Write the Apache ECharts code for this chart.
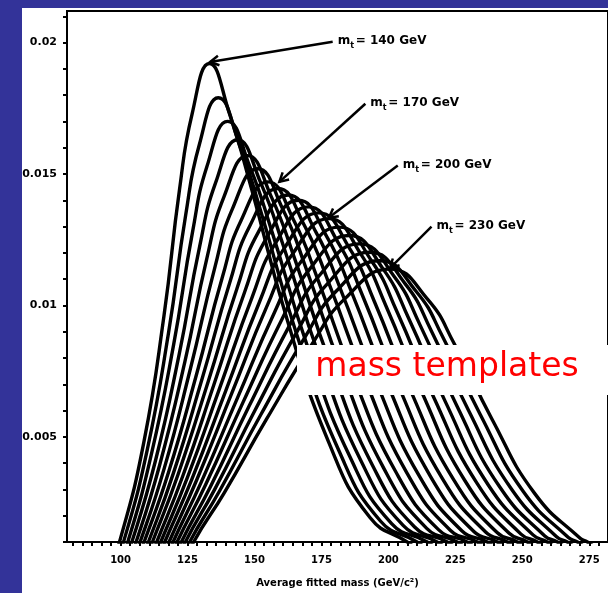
<!DOCTYPE html>
<html>
<head>
<meta charset="utf-8">
<script src="https://cdn.jsdelivr.net/npm/echarts@6/dist/echarts.min.js"></script>
<style>
  html, body { margin: 0; padding: 0; background: #333399; }
  #main { width: 608px; height: 593px; }
</style>
</head>
<body>
<div id="main"></div>
<script>
// Top-mass templates: average fitted mass distributions, one per generated mass (GeV)
const massValues = [140, 145, 150, 155, 160, 165, 170, 175, 180, 185, 190, 195, 200, 205, 210, 215, 220, 225, 230];

const mt140 = [[95.6,0],[99.6,0.001],[108.7,0.0048],[116.2,0.0096],[122.0,0.0144],[126.7,0.01728],[133.2,0.0192],[140.7,0.01728],[149.0,0.0144],[161.8,0.0096],[177.7,0.0048],[193.2,0.00192],[207.0,0.001],[221.0,0]];
const mt145 = [[97.1,0],[101.1,0.001],[109.9,0.00448],[117.9,0.00895],[124.3,0.01343],[129.4,0.01611],[136.5,0.0179],[144.4,0.01611],[152.8,0.01343],[165.6,0.00895],[181.5,0.00448],[197.1,0.00179],[210.7,0.001],[224.7,0]];
const mt150 = [[98.7,0],[102.7,0.001],[111.3,0.00425],[119.8,0.0085],[126.8,0.01275],[132.3,0.0153],[140.0,0.017],[148.2,0.0153],[156.7,0.01275],[169.6,0.0085],[185.6,0.00425],[201.2,0.0017],[214.5,0.001],[228.5,0]];
const mt155 = [[100.2,0],[104.2,0.001],[113.0,0.00408],[121.9,0.00815],[129.5,0.01223],[135.5,0.01467],[143.7,0.0163],[152.3,0.01467],[160.9,0.01223],[173.9,0.00815],[189.8,0.00408],[205.5,0.00163],[218.2,0.001],[232.2,0]];
const mt160 = [[101.8,0],[105.8,0.001],[114.6,0.00393],[124.0,0.00785],[132.2,0.01178],[138.6,0.01413],[147.4,0.0157],[156.3,0.01413],[165.0,0.01178],[178.1,0.00785],[194.0,0.00393],[209.8,0.00157],[222.0,0.001],[236.0,0]];
const mt165 = [[103.3,0],[107.3,0.001],[116.3,0.0038],[126.1,0.0076],[135.1,0.0114],[141.8,0.01368],[151.2,0.0152],[160.5,0.01368],[169.3,0.0114],[182.4,0.0076],[198.3,0.0038],[214.3,0.00152],[225.7,0.001],[239.7,0]];
const mt170 = [[104.8,0],[108.8,0.001],[118.0,0.00368],[128.3,0.00735],[137.9,0.01103],[145.0,0.01323],[155.0,0.0147],[164.7,0.01323],[173.5,0.01103],[186.7,0.00735],[202.7,0.00368],[218.7,0.00147],[229.4,0.001],[243.4,0]];
const mt175 = [[106.4,0],[110.4,0.001],[119.7,0.00361],[130.5,0.00723],[140.7,0.01084],[148.2,0.01301],[158.8,0.01445],[168.8,0.01301],[177.8,0.01084],[191.1,0.00723],[207.0,0.00361],[223.1,0.00145],[233.2,0.001],[247.2,0]];
const mt180 = [[107.9,0],[111.9,0.001],[121.4,0.00355],[132.7,0.0071],[143.5,0.01065],[151.4,0.01278],[162.6,0.0142],[173.0,0.01278],[182.0,0.01065],[195.4,0.0071],[211.3,0.00355],[227.5,0.00142],[236.9,0.001],[250.9,0]];
const mt185 = [[109.5,0],[113.5,0.001],[123.2,0.0035],[134.9,0.007],[146.3,0.0105],[154.7,0.0126],[166.4,0.014],[177.1,0.0126],[186.3,0.0105],[199.7,0.007],[215.7,0.0035],[231.9,0.0014],[240.7,0.001],[254.7,0]];
const mt190 = [[111.0,0],[115.0,0.001],[124.9,0.00344],[137.1,0.00688],[149.1,0.01031],[157.9,0.01238],[170.2,0.01375],[181.3,0.01238],[190.6,0.01031],[204.0,0.00688],[220.0,0.00344],[236.3,0.00138],[244.4,0.001],[258.4,0]];
const mt195 = [[112.5,0],[116.5,0.001],[126.6,0.00338],[139.3,0.00676],[151.9,0.01014],[161.1,0.01217],[174.0,0.01352],[185.5,0.01217],[194.8,0.01014],[208.3,0.00676],[224.3,0.00338],[240.7,0.00135],[248.1,0.001],[262.1,0]];
const mt200 = [[114.1,0],[118.1,0.001],[128.3,0.00333],[141.5,0.00665],[154.7,0.00998],[164.3,0.01197],[177.8,0.0133],[189.6,0.01197],[199.1,0.00998],[212.7,0.00665],[228.6,0.00333],[245.1,0.00133],[251.9,0.001],[265.9,0]];
const mt205 = [[115.6,0],[119.6,0.001],[130.0,0.00325],[143.7,0.00649],[157.5,0.00974],[167.5,0.01168],[181.6,0.01298],[193.8,0.01168],[203.3,0.00974],[217.0,0.00649],[233.0,0.00325],[249.5,0.0013],[255.6,0.001],[269.6,0]];
const mt210 = [[117.1,0],[121.1,0.001],[131.7,0.00317],[145.8,0.00633],[160.4,0.0095],[170.7,0.01139],[185.4,0.01266],[198.0,0.01139],[207.6,0.0095],[221.3,0.00633],[237.3,0.00317],[254.0,0.00127],[259.3,0.001],[273.3,0]];
const mt215 = [[118.7,0],[122.7,0.001],[133.5,0.00309],[148.0,0.00617],[163.2,0.00926],[174.0,0.01111],[189.2,0.01234],[202.1,0.01111],[211.8,0.00926],[225.6,0.00617],[241.6,0.00309],[258.4,0.00123],[263.1,0.001],[277.1,0]];
const mt220 = [[120.2,0],[124.2,0.001],[135.2,0.00301],[150.2,0.00601],[166.0,0.00902],[177.2,0.01082],[193.0,0.01202],[206.3,0.01082],[216.1,0.00902],[229.9,0.00601],[246.0,0.00301],[262.8,0.0012],[266.8,0.001],[280.8,0]];
const mt225 = [[121.8,0],[125.8,0.001],[136.9,0.00293],[152.4,0.00585],[168.8,0.00878],[180.4,0.01053],[196.8,0.0117],[210.4,0.01053],[220.4,0.00878],[234.3,0.00585],[250.3,0.00293],[267.2,0.00117],[270.6,0.001],[284.6,0]];
const mt230 = [[123.3,0],[127.3,0.001],[138.6,0.00285],[154.6,0.00569],[171.6,0.00854],[183.6,0.01024],[200.6,0.01138],[214.6,0.01024],[224.6,0.00854],[238.6,0.00569],[254.6,0.00285],[271.6,0.00114],[274.3,0.001],[288.3,0]];

const templates = [mt140, mt145, mt150, mt155, mt160, mt165, mt170, mt175, mt180, mt185, mt190, mt195, mt200, mt205, mt210, mt215, mt220, mt225, mt230];

// Axis ticks and labels
const xLabelValues = [100, 125, 150, 175, 200, 225, 250, 275];
const xMinorPerLabel = 7;
const yLabelValues = [0.005, 0.01, 0.015, 0.02];
const yTickValues = [0.001, 0.002, 0.003, 0.004, 0.005, 0.006, 0.007, 0.008, 0.009, 0.01, 0.011, 0.012, 0.013, 0.014, 0.015, 0.016, 0.017, 0.018, 0.019, 0.02, 0.021];

// Callouts: labelled mass, arrow tip on the template peak, arrow tail near the label
const calloutMasses = [140, 170, 200, 230];
const calloutTips = [[133.4, 0.01926], [159.3, 0.0147], [177.8, 0.01334], [200.6, 0.01142]];
const calloutTails = [[179.2, 0.02003], [191.4, 0.01767], [203.5, 0.01532], [216.1, 0.0130]];

// minor tick marks: evenly split each labelled interval
const xMinorStep = 25 / xMinorPerLabel;
const xTickValues = [];
for (let k = -5; 100 + k * xMinorStep <= 282; k++) xTickValues.push(+(100 + k * xMinorStep).toFixed(4));

const FONT = '"DejaVu Sans", "Liberation Sans", sans-serif';

const chart = echarts.init(document.getElementById('main'), null, { renderer: 'canvas' });

const option = {
  backgroundColor: '#333399',
  animation: false,
  grid: {
    left: 67, top: 11, right: -8, bottom: 50,
    show: true, backgroundColor: 'transparent', borderColor: '#000', borderWidth: 2
  },
  xAxis: {
    type: 'value', min: 80, max: 282,
    splitLine: { show: false },
    axisLine: { lineStyle: { color: '#000', width: 2 } },
    axisTick: { customValues: xTickValues, length: 4, lineStyle: { color: '#000', width: 2 } },
    axisLabel: {
      customValues: xLabelValues, color: '#000', fontFamily: FONT,
      fontWeight: 'bold', fontSize: 10, margin: 13
    },
    name: 'Average fitted mass (GeV/c²)',
    nameLocation: 'middle', nameGap: 36,
    nameTextStyle: { color: '#000', fontFamily: FONT, fontWeight: 'bold', fontSize: 10 }
  },
  yAxis: {
    type: 'value', min: 0.001, max: 0.0212,
    splitLine: { show: false },
    axisLine: { lineStyle: { color: '#000', width: 2 } },
    axisTick: { customValues: yTickValues, length: 4, lineStyle: { color: '#000', width: 2 } },
    axisLabel: {
      customValues: yLabelValues, color: '#000', fontFamily: FONT,
      fontWeight: 'bold', fontSize: 11, margin: 10,
      formatter: v => String(v)
    }
  },
  series: templates.map((pts, k) => ({
    type: 'line',
    name: 'mt = ' + massValues[k] + ' GeV',
    data: pts,
    smooth: 0.5,
    showSymbol: false,
    clip: true,
    lineStyle: { color: '#000', width: 3.4 },
    z: 2
  }))
};

chart.setOption(option);

// Overlay: white page area, callout arrows and labels, caption box
const gfx = [
  { type: 'rect', z: -10, shape: { x: 22, y: 8, width: 600, height: 600 }, style: { fill: '#ffffff' } }
];

calloutMasses.forEach((m, k) => {
  const tail = chart.convertToPixel({ gridIndex: 0 }, calloutTails[k]);
  const tip = chart.convertToPixel({ gridIndex: 0 }, calloutTips[k]);
  const dx = tail[0] - tip[0], dy = tail[1] - tip[1];
  const len = Math.hypot(dx, dy);
  const ux = dx / len, uy = dy / len;
  const a = 0.5, L = 10;
  const h1 = [tip[0] + L * (ux * Math.cos(a) - uy * Math.sin(a)), tip[1] + L * (ux * Math.sin(a) + uy * Math.cos(a))];
  const h2 = [tip[0] + L * (ux * Math.cos(a) + uy * Math.sin(a)), tip[1] + L * (-ux * Math.sin(a) + uy * Math.cos(a))];
  gfx.push({ type: 'polyline', z: 100, shape: { points: [tail, tip] }, style: { stroke: '#000', lineWidth: 2.5, fill: null } });
  gfx.push({ type: 'polyline', z: 100, shape: { points: [h1, tip, h2] }, style: { stroke: '#000', lineWidth: 2.5, fill: null } });
  gfx.push({ type: 'text', z: 100, x: tail[0] + 5, y: tail[1] - 1,
    style: { text: 'm', font: 'bold 12px ' + FONT, fill: '#000', verticalAlign: 'middle', textVerticalAlign: 'middle' } });
  gfx.push({ type: 'text', z: 100, x: tail[0] + 17.5, y: tail[1] + 4,
    style: { text: 't', font: 'bold 8px ' + FONT, fill: '#000', verticalAlign: 'middle', textVerticalAlign: 'middle' } });
  gfx.push({ type: 'text', z: 100, x: tail[0] + 23, y: tail[1] - 1,
    style: { text: '= ' + m + ' GeV', font: 'bold 12px ' + FONT, fill: '#000', verticalAlign: 'middle', textVerticalAlign: 'middle' } });
});

gfx.push({ type: 'rect', z: 110, shape: { x: 297, y: 345, width: 320, height: 50 }, style: { fill: '#ffffff' } });
gfx.push({ type: 'text', z: 111, x: 447, y: 367,
  style: { text: 'mass templates', font: '33px ' + FONT, fill: '#ff0000',
    align: 'center', textAlign: 'center', verticalAlign: 'middle', textVerticalAlign: 'middle' } });

chart.setOption({ graphic: { elements: gfx } });
</script>
</body>
</html>
